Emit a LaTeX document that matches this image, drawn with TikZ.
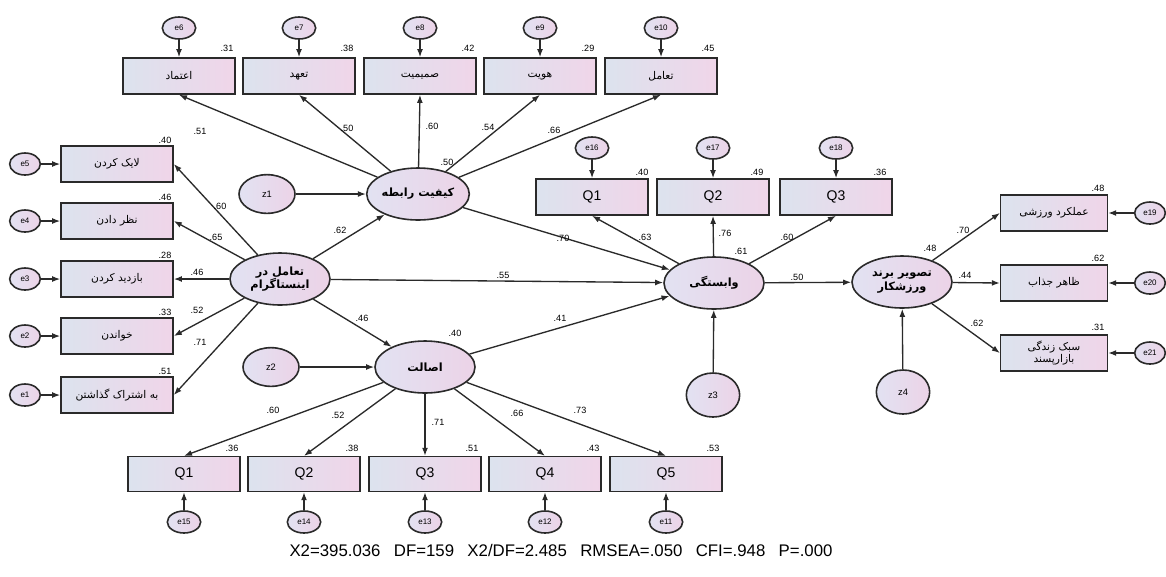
\documentclass[tikz,border=0pt]{standalone}
\usepackage{fontspec}
\setsansfont{Liberation Sans}
\newfontfamily\persianfont[Script=Arabic]{DejaVu Sans}
\TeXXeTstate=1
\usetikzlibrary{shapes.geometric,arrows.meta}
\newcommand{\rtltext}[1]{\beginR#1\endR}
\definecolor{boxL}{HTML}{DCE3EE}
\definecolor{boxR}{HTML}{F0D5E9}
\definecolor{latL}{HTML}{E2E2F2}
\definecolor{latR}{HTML}{ECD3E7}
\definecolor{lineC}{HTML}{2A2A2A}
\tikzset{
  obs/.style={rectangle, draw=lineC, line width=1.2pt, left color=boxL, right color=boxR,
    minimum width=84pt, minimum height=27pt, inner sep=1pt, align=center,
    font=\persianfont\fontsize{8}{9.5}\selectfont},
  obsr/.style={obs, minimum width=80pt},
  qbox/.style={obs, font=\sffamily\fontsize{10.5}{12}\selectfont},
  lat/.style={ellipse, draw=lineC, line width=1.2pt, left color=latL, right color=latR,
    minimum width=75pt, minimum height=39pt, inner sep=0pt, align=center,
    font=\persianfont\bfseries\fontsize{8.5}{10}\selectfont},
  err/.style={ellipse, draw=lineC, line width=1.2pt, left color=latL, right color=latR,
    minimum width=25pt, minimum height=16.5pt, inner sep=0pt,
    font=\sffamily\fontsize{6}{7}\selectfont},
  dist/.style={err, minimum width=42pt, minimum height=29pt, font=\sffamily\fontsize{7}{8}\selectfont},
  val/.style={font=\sffamily\fontsize{6.8}{7}\selectfont, inner sep=0pt},
  arr/.style={-{Latex[length=6pt,width=4.4pt]}, line width=1pt, draw=lineC}
}
\begin{document}
\begin{tikzpicture}[x=0.75pt,y=-0.75pt]
\fill[white] (0,0) rectangle (1166,576);
\useasboundingbox (0,0) rectangle (1166,576);

% ---------- latent variables ----------
\node[lat] (KR) at (418,194) {\rtltext{کیفیت رابطه}};
\node[lat] (IG) at (280,279) {\rtltext{تعامل در}\\\rtltext{اینستاگرام}};
\node[lat] (AS) at (425,367) {\rtltext{اصالت}};
\node[lat] (VA) at (714,283) {\rtltext{وابستگی}};
\node[lat] (BI) at (902,282) {\rtltext{تصویر برند}\\\rtltext{ورزشکار}};

% ---------- disturbances ----------
\node[dist] (z1) at (267,194) {z1};
\node[dist] (z2) at (271,367) {z2};
\node[dist, minimum width=40pt, minimum height=33pt] (z3) at (713,395) {z3};
\node[dist, minimum width=40pt, minimum height=33pt] (z4) at (903,392) {z4};

% ---------- top indicators ----------
\node[obs] (t1) at (179,76) {\rtltext{اعتماد}};
\node[obs] (t2) at (299,76) {\rtltext{تعهد}};
\node[obs] (t3) at (420,76) {\rtltext{صمیمیت}};
\node[obs] (t4) at (540,76) {\rtltext{هویت}};
\node[obs] (t5) at (661,76) {\rtltext{تعامل}};
\node[err] (e6) at (179,28) {e6};
\node[err] (e7) at (299,28) {e7};
\node[err] (e8) at (420,28) {e8};
\node[err] (e9) at (540,28) {e9};
\node[err] (e10) at (661,28) {e10};

% ---------- left indicators ----------
\node[obs] (l1) at (117,164) {\rtltext{لایک کردن}};
\node[obs] (l2) at (117,221) {\rtltext{نظر دادن}};
\node[obs] (l3) at (117,279) {\rtltext{بازدید کردن}};
\node[obs] (l4) at (117,336) {\rtltext{خواندن}};
\node[obs] (l5) at (117,395) {\rtltext{به اشتراک گذاشتن}};
\node[err, minimum width=23pt] (e5) at (25,164) {e5};
\node[err, minimum width=23pt] (e4) at (25,221) {e4};
\node[err, minimum width=23pt] (e3) at (25,279) {e3};
\node[err, minimum width=23pt] (e2) at (25,336) {e2};
\node[err, minimum width=23pt] (e1) at (25,395) {e1};

% ---------- upper Q indicators ----------
\node[qbox] (u1) at (592,197) {Q1};
\node[qbox] (u2) at (713,197) {Q2};
\node[qbox] (u3) at (836,197) {Q3};
\node[err] (e16) at (592,148) {e16};
\node[err] (e17) at (713,148) {e17};
\node[err] (e18) at (836,148) {e18};

% ---------- right indicators ----------
\node[obsr] (r1) at (1054,213) {\rtltext{عملکرد ورزشی}};
\node[obsr] (r2) at (1054,283) {\rtltext{ظاهر جذاب}};
\node[obsr] (r3) at (1054,353) {\rtltext{سبک زندگی}\\\rtltext{بازارپسند}};
\node[err, minimum width=23pt] (e19) at (1150,213) {e19};
\node[err, minimum width=23pt] (e20) at (1150,283) {e20};
\node[err, minimum width=23pt] (e21) at (1150,353) {e21};

% ---------- bottom Q indicators ----------
\node[qbox, minimum height=26pt] (b1) at (184,474) {Q1};
\node[qbox, minimum height=26pt] (b2) at (304,474) {Q2};
\node[qbox, minimum height=26pt] (b3) at (425,474) {Q3};
\node[qbox, minimum height=26pt] (b4) at (545,474) {Q4};
\node[qbox, minimum height=26pt] (b5) at (666,474) {Q5};
\node[err] (e15) at (184,522) {e15};
\node[err] (e14) at (304,522) {e14};
\node[err] (e13) at (425,522) {e13};
\node[err] (e12) at (545,522) {e12};
\node[err] (e11) at (666,522) {e11};

% ---------- connectors ----------
\foreach \e/\t in {e6/t1,e7/t2,e8/t3,e9/t4,e10/t5,e16/u1,e17/u2,e18/u3}
  \draw[arr] (\e) -- (\t.north);
\foreach \e/\t in {e5/l1,e4/l2,e3/l3,e2/l4,e1/l5}
  \draw[arr] (\e) -- (\t.west);
\foreach \e/\t in {e19/r1,e20/r2,e21/r3}
  \draw[arr] (\e) -- (\t.east);
\foreach \e/\t in {e15/b1,e14/b2,e13/b3,e12/b4,e11/b5}
  \draw[arr] (\e) -- (\t.south);
\foreach \t in {t1,t2,t3,t4,t5}
  \draw[arr] (KR) -- (\t.south);
\foreach \t in {l1,l2,l3,l4,l5}
  \draw[arr] (IG) -- (\t.east);
\foreach \t in {u1,u2,u3}
  \draw[arr] (VA) -- (\t.south);
\foreach \t in {r1,r2,r3}
  \draw[arr] (BI) -- (\t.west);
\foreach \t in {b1,b2,b3,b4,b5}
  \draw[arr] (AS) -- (\t.north);
\draw[arr] (z1) -- (KR);
\draw[arr] (z2) -- (AS);
\draw[arr] (z3) -- (VA);
\draw[arr] (z4) -- (BI);
\draw[arr] (IG) -- (KR);
\draw[arr] (IG) -- (AS);
\draw[arr] (IG) -- (VA);
\draw[arr] (KR) -- (VA);
\draw[arr] (AS) -- (VA);
\draw[arr] (VA) -- (BI);

% ---------- squared multiple correlations ----------
\node[val] (v1) at (227,48) {.31};
\node[val] (v2) at (347,48) {.38};
\node[val] (v3) at (468,48) {.42};
\node[val] (v4) at (588,48) {.29};
\node[val] (v5) at (708,48) {.45};
\node[val] (v6) at (165,140) {.40};
\node[val] (v7) at (165,197) {.46};
\node[val] (v8) at (165,255) {.28};
\node[val] (v9) at (165,312) {.33};
\node[val] (v10) at (165,371) {.51};
\node[val] (v11) at (642,172) {.40};
\node[val] (v12) at (757,172) {.49};
\node[val] (v13) at (880,172) {.36};
\node[val] (v14) at (1098,188) {.48};
\node[val] (v15) at (1098,258) {.62};
\node[val] (v16) at (1098,327) {.31};
\node[val] (v17) at (232,448) {.36};
\node[val] (v18) at (352,448) {.38};
\node[val] (v19) at (472,448) {.51};
\node[val] (v20) at (593,448) {.43};
\node[val] (v21) at (713,448) {.53};
\node[val] (v22) at (447,162) {.50};
\node[val] (v23) at (455,333) {.40};
\node[val] (v24) at (741,251) {.61};
\node[val] (v25) at (930,248) {.48};

% ---------- path coefficients ----------
\node[val] (p1) at (200,131) {.51};
\node[val] (p2) at (347,128) {.50};
\node[val] (p3) at (432,126) {.60};
\node[val] (p4) at (488,127) {.54};
\node[val] (p5) at (554,130) {.66};
\node[val] (p6) at (220,206) {.60};
\node[val] (p7) at (216,237) {.65};
\node[val] (p8) at (197,272) {.46};
\node[val] (p9) at (197,310) {.52};
\node[val] (p10) at (200,342) {.71};
\node[val] (p11) at (340,230) {.62};
\node[val] (p12) at (503,275) {.55};
\node[val] (p13) at (362,318) {.46};
\node[val] (p14) at (560,318) {.41};
\node[val] (p15) at (563,238) {.70};
\node[val] (p16) at (645,237) {.63};
\node[val] (p17) at (725,233) {.76};
\node[val] (p18) at (787,237) {.60};
\node[val] (p19) at (797,277) {.50};
\node[val] (p20) at (963,230) {.70};
\node[val] (p21) at (965,275) {.44};
\node[val] (p22) at (977,323) {.62};
\node[val] (p23) at (273,410) {.60};
\node[val] (p24) at (338,415) {.52};
\node[val] (p25) at (438,422) {.71};
\node[val] (p26) at (517,413) {.66};
\node[val] (p27) at (580,410) {.73};

% ---------- fit indices ----------
\node[font=\sffamily\fontsize{12.6}{14}\selectfont, inner sep=0pt] (fit) at (561,550)
  {X2=395.036\hspace{10pt}DF=159\hspace{10pt}X2/DF=2.485\hspace{10pt}RMSEA=.050\hspace{10pt}CFI=.948\hspace{10pt}P=.000};
\end{tikzpicture}
\end{document}
